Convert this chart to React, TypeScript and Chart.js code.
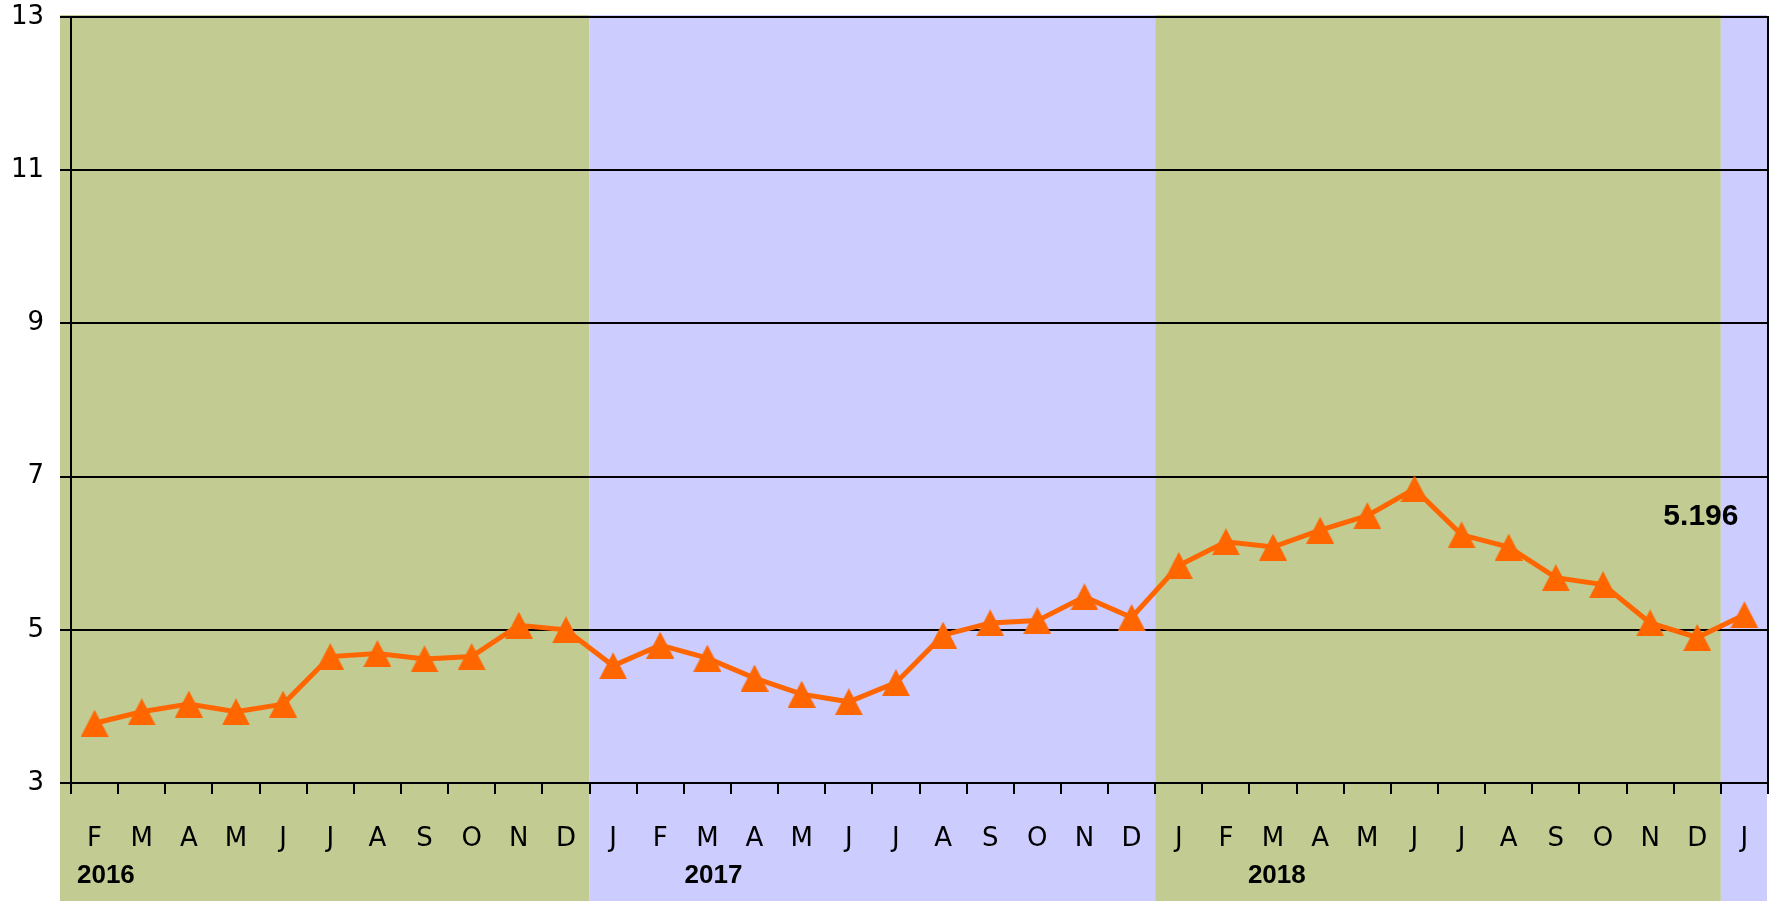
import React, { useEffect, useRef } from 'react';
import { Chart, registerables } from 'chart.js';

Chart.register(...registerables);

const monthLabels = [
  'F', 'M', 'A', 'M', 'J', 'J', 'A', 'S', 'O', 'N', 'D',
  'J', 'F', 'M', 'A', 'M', 'J', 'J', 'A', 'S', 'O', 'N', 'D',
  'J', 'F', 'M', 'A', 'M', 'J', 'J', 'A', 'S', 'O', 'N', 'D',
  'J',
];

const values = [
  3.78, 3.93, 4.03, 3.93, 4.03, 4.65, 4.69, 4.62, 4.65, 5.06, 5.0,
  4.53, 4.8, 4.63, 4.37, 4.16, 4.06, 4.31, 4.93, 5.09, 5.12, 5.43, 5.16,
  5.84, 6.15, 6.08, 6.3, 6.49, 6.84, 6.24, 6.08, 5.68, 5.59, 5.09, 4.9,
  5.196,
];

const yearBandStart = [0, 11, 23, 35];
const yearBandColors = ['#C2CC92', '#CCCCFF', '#C2CC92', '#CCCCFF'];

const yearLabels = ['2016', '2017', '2018'];
const yearLabelIndex = [0.24, 13.13, 25.08];

const yMin = 3;
const yMax = 13;
const yStep = 2;

const lastValueLabel = '5.196';

export default function App() {
  const ref = useRef<HTMLCanvasElement>(null);

  useEffect(() => {
    document.body.style.margin = '0';
    const canvas = ref.current!;

    const tri = document.createElement('canvas');
    tri.width = 28;
    tri.height = 27;
    const tctx = tri.getContext('2d')!;
    tctx.fillStyle = '#FF6600';
    tctx.beginPath();
    tctx.moveTo(14, 0);
    tctx.lineTo(28, 27);
    tctx.lineTo(0, 27);
    tctx.closePath();
    tctx.fill();

    const bandsPlugin = {
      id: 'bands',
      beforeDraw(chart: any) {
        const { ctx, chartArea } = chart;
        const xs = chart.scales.x;
        const left0 = chartArea.left - 11;
        const right = chartArea.right - 1;
        const top = chartArea.top - 2;
        const bottom = chart.height;
        ctx.save();
        for (let i = 0; i < yearBandStart.length; i++) {
          const x0 = i === 0 ? left0 : xs.getPixelForValue(yearBandStart[i] - 0.5);
          const x1 =
            i === yearBandStart.length - 1
              ? right
              : xs.getPixelForValue(yearBandStart[i + 1] - 0.5);
          ctx.fillStyle = yearBandColors[i];
          ctx.fillRect(x0, top, x1 - x0, bottom - top);
        }
        ctx.restore();
      },
      afterDraw(chart: any) {
        const { ctx, chartArea } = chart;
        const xs = chart.scales.x;
        ctx.save();
        ctx.strokeStyle = '#000';
        ctx.lineWidth = 2;
        ctx.beginPath();
        ctx.moveTo(chartArea.right, chartArea.top - 1);
        ctx.lineTo(chartArea.right, chartArea.bottom);
        ctx.stroke();
        ctx.fillStyle = '#000';
        ctx.font = 'bold 26px "Liberation Sans", Arial, sans-serif';
        ctx.textAlign = 'center';
        ctx.textBaseline = 'alphabetic';
        yearLabels.forEach((t, i) => {
          ctx.fillText(t, xs.getPixelForValue(yearLabelIndex[i]), 882.5);
        });
        const meta = chart.getDatasetMeta(0);
        const pt = meta.data[meta.data.length - 1];
        ctx.font = 'bold 30px "Liberation Sans", Arial, sans-serif';
        ctx.textAlign = 'right';
        ctx.fillText(lastValueLabel, pt.x - 6, pt.y - 90);
        ctx.restore();
      },
    };

    const chart = new Chart(canvas, {
      type: 'line',
      data: {
        labels: monthLabels,
        datasets: [
          {
            data: values,
            borderColor: '#FF6600',
            borderWidth: 5,
            pointStyle: tri as any,
            pointRadius: 13,
            pointHoverRadius: 13,
            pointBorderWidth: 0,
            pointBackgroundColor: '#FF6600',
            pointBorderColor: '#FF6600',
            tension: 0,
            fill: false,
          },
        ],
      },
      options: {
        responsive: false,
        animation: false,
        events: [],
        layout: { autoPadding: false, padding: { top: 17, right: 7, left: 0, bottom: 0 } },
        plugins: {
          legend: { display: false },
          tooltip: { enabled: false },
          title: { display: false },
        },
        scales: {
          x: {
            type: 'category',
            offset: true,
            grid: {
              display: true,
              offset: true,
              drawOnChartArea: false,
              drawTicks: true,
              tickLength: 11,
              color: '#000',
              lineWidth: 2,
            },
            border: { display: true, color: '#000', width: 2 },
            ticks: {
              autoSkip: false,
              maxRotation: 0,
              minRotation: 0,
              padding: 30,
              color: '#000',
              font: { family: '"DejaVu Sans", Verdana, sans-serif', size: 26, lineHeight: 1.2 },
            },
            afterFit: (scale: any) => {
              scale.height = 118;
              scale.paddingLeft = 0;
              scale.paddingRight = 0;
            },
          },
          y: {
            min: yMin,
            max: yMax,
            grid: {
              display: true,
              drawOnChartArea: true,
              drawTicks: true,
              tickLength: 11,
              color: '#000',
              lineWidth: 2,
            },
            border: { display: true, color: '#000', width: 2 },
            ticks: {
              stepSize: yStep,
              padding: 16,
              color: '#000',
              font: { family: '"DejaVu Sans", Verdana, sans-serif', size: 26, lineHeight: 1 },
            },
            afterFit: (scale: any) => {
              scale.width = 71;
              scale.paddingTop = 0;
              scale.paddingBottom = 0;
            },
          },
        },
      },
      plugins: [bandsPlugin],
    });

    return () => chart.destroy();
  }, []);

  return (
    <div style={{ position: 'absolute', left: 0, top: 0, width: 1775, height: 901 }}>
      <canvas ref={ref} width={1775} height={901} style={{ display: 'block' }} />
    </div>
  );
}
